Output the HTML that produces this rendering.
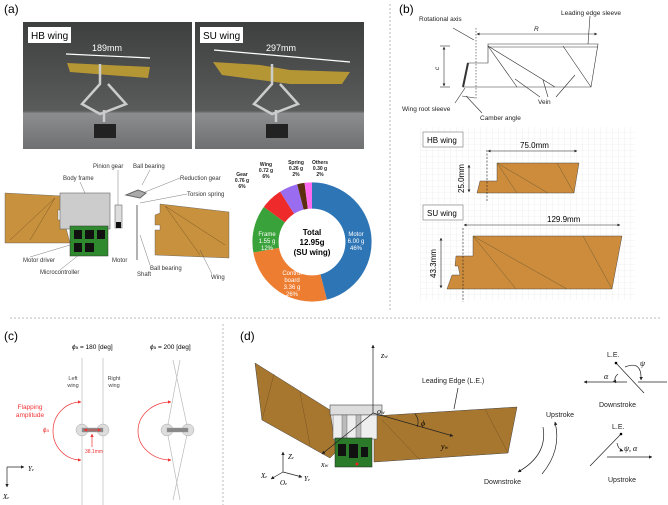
<!DOCTYPE html>
<html><head><meta charset="utf-8"><style>
body{margin:0;background:#fff}
svg{display:block;font-family:"Liberation Sans",sans-serif}
</style></head><body>
<svg width="668" height="505" viewBox="0 0 668 505" xmlns="http://www.w3.org/2000/svg">
<defs>
<linearGradient id="ph" x1="0" y1="0" x2="0" y2="1">
<stop offset="0" stop-color="#3e3f3f"/><stop offset="0.7" stop-color="#5a5b5b"/><stop offset="0.72" stop-color="#8c8d8e"/><stop offset="1" stop-color="#6f7071"/></linearGradient>
<pattern id="grid" width="6" height="6" patternUnits="userSpaceOnUse"><path d="M6 0H0V6" fill="none" stroke="#e4e4e4" stroke-width="0.6"/></pattern>
<marker id="ar" viewBox="0 0 10 10" refX="9" refY="5" markerWidth="5" markerHeight="5" orient="auto-start-reverse"><path d="M0 0L10 5L0 10z" fill="#222"/></marker>
<marker id="arr" viewBox="0 0 10 10" refX="9" refY="5" markerWidth="5" markerHeight="5" orient="auto-start-reverse"><path d="M0 0L10 5L0 10z" fill="#e33"/></marker>
</defs>
<g font-size="12"><text x="4" y="13">(a)</text><text x="399" y="13">(b)</text><text x="4" y="340">(c)</text><text x="240" y="340">(d)</text></g>
<!-- dividers -->
<line x1="390" y1="4" x2="390" y2="312" stroke="#bbb" stroke-dasharray="2,2"/>
<line x1="10" y1="318" x2="660" y2="318" stroke="#bbb" stroke-dasharray="2,2"/>
<line x1="223" y1="324" x2="223" y2="505" stroke="#bbb" stroke-dasharray="2,2"/>
<!-- photos -->
<rect x="23" y="22" width="169" height="127" fill="url(#ph)"/>
<rect x="195" y="22" width="169" height="127" fill="url(#ph)"/>
<rect x="28" y="27" width="43" height="16" fill="#fff"/><text x="31" y="39" font-size="10">HB wing</text>
<rect x="200" y="27" width="43" height="16" fill="#fff"/><text x="203" y="39" font-size="10">SU wing</text>
<text x="92" y="51" font-size="9" fill="#fff">189mm</text><text x="266" y="51" font-size="9" fill="#fff">297mm</text>
<line x1="66" y1="54" x2="150" y2="58" stroke="#fff" stroke-width="1.2"/>
<line x1="214" y1="50" x2="350" y2="62" stroke="#fff" stroke-width="1.2"/>
<polygon points="67,63 150,67 148,78 70,72" fill="#b59635"/>
<polygon points="213,62 260,65 290,70 350,72 342,84 290,84 260,80 222,75" fill="#b59635"/>
<g stroke="#ccc" stroke-width="2.5" fill="none"><path d="M100 64v20l-18 20 18 10 26-10-18-20M104 110v12"/><path d="M272 64v20l-18 20 18 10 26-10-18-20M276 110v12"/></g>
<rect x="94" y="124" width="22" height="14" fill="#222"/><rect x="266" y="124" width="22" height="14" fill="#222"/>
<!-- CAD -->
<text font-size="6" fill="#333"><tspan x="93" y="168">Pinion gear</tspan><tspan x="133" y="168">Ball bearing</tspan><tspan x="63" y="180">Body frame</tspan><tspan x="180" y="180">Reduction gear</tspan><tspan x="187" y="196">Torsion spring</tspan><tspan x="23" y="262">Motor driver</tspan><tspan x="112" y="262">Motor</tspan><tspan x="150" y="270">Ball bearing</tspan><tspan x="211" y="279">Wing</tspan><tspan x="40" y="274">Microcontroller</tspan><tspan x="137" y="276">Shaft</tspan></text>
<polygon points="5,193 62,196 62,210 58,210 58,220 64,220 70,243 5,243" fill="#c8913d" stroke="#555" stroke-width="0.4"/>
<polygon points="160,204 229,212 229,258 155,255 155,230 160,230 160,225 155,225 155,215 160,213" fill="#c8913d" stroke="#555" stroke-width="0.4"/>
<g stroke="#6a4a20" stroke-width="0.4"><line x1="55" y1="198" x2="10" y2="240"/><line x1="55" y1="198" x2="30" y2="240"/><line x1="165" y1="206" x2="200" y2="255"/><line x1="165" y1="206" x2="225" y2="245"/></g>
<rect x="60" y="193" width="50" height="36" fill="#ccc" stroke="#666" stroke-width="0.6"/>
<rect x="70" y="226" width="38" height="30" fill="#2f8a2f" stroke="#333" stroke-width="0.5"/>
<g fill="#111"><rect x="74" y="230" width="8" height="9"/><rect x="85" y="230" width="9" height="9"/><rect x="97" y="230" width="8" height="9"/><rect x="74" y="243" width="8" height="9"/><rect x="85" y="243" width="9" height="9"/></g>
<rect x="115" y="205" width="7" height="23" fill="#ddd" stroke="#555" stroke-width="0.5"/><rect x="116" y="222" width="5" height="6" fill="#111"/>
<path d="M126 195l12-5 8 3-6 5zM137 205v55" stroke="#666" stroke-width="1" fill="#aaa"/>
<g stroke="#555" stroke-width="0.4"><line x1="118" y1="170" x2="118" y2="205"/><line x1="150" y1="170" x2="142" y2="185"/><line x1="180" y1="178" x2="145" y2="192"/><line x1="187" y1="194" x2="140" y2="203"/><line x1="150" y1="265" x2="140" y2="235"/><line x1="30" y1="257" x2="70" y2="245"/><line x1="60" y1="270" x2="80" y2="254"/><line x1="212" y1="274" x2="200" y2="250"/><line x1="80" y1="182" x2="85" y2="193"/></g>
<!-- donut -->
<g transform="translate(312,242)">
<path d="M0,-60 A60,60 0 0 1 15.0,58.1 L8.3,32.0 A33,33 0 0 0 0,-33Z" fill="#2e75b6"/>
<path d="M15.0,58.1 A60,60 0 0 1 -59.0,10.5 L-32.5,5.8 A33,33 0 0 0 8.3,32.0Z" fill="#ed7d31"/>
<path d="M-59.0,10.5 A60,60 0 0 1 -48.5,-35.3 L-26.7,-19.4 A33,33 0 0 0 -32.5,5.8Z" fill="#3aa23a"/>
<path d="M-48.5,-35.3 A60,60 0 0 1 -32.1,-50.7 L-17.7,-27.9 A33,33 0 0 0 -26.7,-19.4Z" fill="#ee2a2a"/>
<path d="M-32.1,-50.7 A60,60 0 0 1 -14.9,-58.1 L-8.2,-32.0 A33,33 0 0 0 -17.7,-27.9Z" fill="#9a6cf0"/>
<path d="M-14.9,-58.1 A60,60 0 0 1 -7.5,-59.5 L-4.1,-32.7 A33,33 0 0 0 -8.2,-32.0Z" fill="#5a2e0e"/>
<path d="M-7.5,-59.5 A60,60 0 0 1 0,-60 L0,-33 A33,33 0 0 0 -4.1,-32.7Z" fill="#ff6bf0"/>
<g stroke="#fff" stroke-width="0.8" fill="none"><circle r="60"/><circle r="33"/></g>
<g font-size="6" text-anchor="middle" fill="#fff"><text x="44" y="-6">Motor</text><text x="44" y="1">6.00 g</text><text x="44" y="8">46%</text><text x="-20" y="33">Control</text><text x="-20" y="40">board</text><text x="-20" y="47">3.36 g</text><text x="-20" y="54">26%</text><text x="-45" y="-6">Frame</text><text x="-45" y="1">1.55 g</text><text x="-45" y="8">12%</text></g>
<g font-size="5" text-anchor="middle" fill="#222" font-weight="bold"><text x="-70" y="-66">Gear</text><text x="-70" y="-60">0.76 g</text><text x="-70" y="-54">6%</text><text x="-46" y="-76">Wing</text><text x="-46" y="-70">0.72 g</text><text x="-46" y="-64">6%</text><text x="-16" y="-78">Spring</text><text x="-16" y="-72">0.26 g</text><text x="-16" y="-66">2%</text><text x="8" y="-78">Others</text><text x="8" y="-72">0.30 g</text><text x="8" y="-66">2%</text></g>
<g font-size="8" font-weight="bold" text-anchor="middle"><text y="-7">Total</text><text y="3">12.95g</text><text y="13">(SU wing)</text></g>
</g>
<!-- (b) schematic -->
<g stroke="#333" stroke-width="0.6" fill="none">
<path d="M488 44H598L591 87H463L468 63H488Z"/><line x1="488" y1="47" x2="598" y2="47"/>
<line x1="488" y1="46" x2="517" y2="87"/><line x1="488" y1="46" x2="555" y2="87"/><line x1="563" y1="46" x2="591" y2="87"/>
<line x1="476" y1="28" x2="476" y2="100" stroke-dasharray="1.5,1.5"/>
<line x1="477" y1="34" x2="597" y2="34" marker-start="url(#ar)" marker-end="url(#ar)"/>
<line x1="444" y1="47" x2="444" y2="86" marker-start="url(#ar)" marker-end="url(#ar)"/>
<line x1="440" y1="46" x2="450" y2="46"/><line x1="440" y1="87" x2="450" y2="87"/>
<line x1="468" y1="63" x2="463" y2="87" stroke-width="2"/>
<line x1="453" y1="28" x2="474" y2="40"/><line x1="590" y1="16" x2="588" y2="44"/><line x1="540" y1="97" x2="515" y2="79"/><line x1="548" y1="97" x2="543" y2="80"/><line x1="556" y1="97" x2="575" y2="75"/><line x1="455" y1="103" x2="465" y2="88"/><line x1="482" y1="113" x2="466" y2="96"/><line x1="462" y1="96" x2="475" y2="98"/>
</g>
<g font-size="6.5" fill="#222"><text x="419" y="21">Rotational axis</text><text x="561" y="15">Leading edge sleeve</text><text x="534" y="31" font-style="italic">R</text><text x="439" y="70" font-style="italic" transform="rotate(-90 439 70)">c</text><text x="538" y="104">Vein</text><text x="402" y="111">Wing root sleeve</text><text x="480" y="120">Camber angle</text></g>
<rect x="420" y="127" width="215" height="173" fill="url(#grid)"/>
<rect x="423" y="132" width="40" height="15" fill="#fff" stroke="#777" stroke-width="0.6"/><text x="427" y="143" font-size="8">HB wing</text>
<rect x="423" y="205" width="40" height="15" fill="#fff" stroke="#777" stroke-width="0.6"/><text x="427" y="216" font-size="8">SU wing</text>
<polygon points="497,163 579,163 574,193 477,193 480,181 497,181" fill="#cd8b3c" stroke="#333" stroke-width="0.4"/>
<polygon points="473,236 622,236 612,289 447,289 452,275 460,275 458,266 455,266 456,256 473,256" fill="#cd8b3c" stroke="#333" stroke-width="0.4"/>
<g stroke="#553" stroke-width="0.4"><line x1="497" y1="163" x2="517" y2="193"/><line x1="497" y1="163" x2="548" y2="193"/><line x1="557" y1="163" x2="574" y2="193"/><line x1="473" y1="236" x2="516" y2="289"/><line x1="473" y1="236" x2="567" y2="289"/><line x1="583" y1="236" x2="612" y2="289"/></g>
<g stroke="#222" stroke-width="0.6" fill="none"><line x1="487" y1="150" x2="487" y2="202" stroke-dasharray="2,1.5"/><line x1="463" y1="228" x2="463" y2="302" stroke-dasharray="2,1.5"/>
<line x1="488" y1="151" x2="577" y2="151" marker-start="url(#ar)" marker-end="url(#ar)"/><line x1="469" y1="165" x2="469" y2="192" marker-start="url(#ar)" marker-end="url(#ar)"/>
<line x1="464" y1="225" x2="620" y2="225" marker-start="url(#ar)" marker-end="url(#ar)"/><line x1="441" y1="238" x2="441" y2="288" marker-start="url(#ar)" marker-end="url(#ar)"/></g>
<g font-size="8"><text x="520" y="148">75.0mm</text><text x="547" y="222">129.9mm</text><text x="464" y="193" transform="rotate(-90 464 193)">25.0mm</text><text x="436" y="278" transform="rotate(-90 436 278)">43.3mm</text></g>
<!-- (c) -->
<g font-size="6.5"><text x="72" y="349"><tspan font-style="italic">ϕ</tspan><tspan font-size="4.5">a</tspan> = 180 [deg]</text><text x="150" y="349"><tspan font-style="italic">ϕ</tspan><tspan font-size="4.5">a</tspan> = 200 [deg]</text></g>
<g stroke="#bbb" stroke-width="0.7" fill="none"><line x1="82" y1="358" x2="82" y2="505"/><line x1="103" y1="358" x2="103" y2="505"/><path d="M173 360L188 430L173 500"/><path d="M180 360L167 430L180 500"/></g>
<g font-size="5.5" fill="#444" text-anchor="middle"><text x="73" y="380">Left</text><text x="73" y="387">wing</text><text x="114" y="380">Right</text><text x="114" y="387">wing</text></g>
<g fill="#ddd" stroke="#999" stroke-width="0.4"><circle cx="82" cy="430" r="6"/><circle cx="103" cy="430" r="6"/><rect x="82" y="428" width="21" height="4" fill="#888"/><circle cx="167" cy="430" r="6"/><circle cx="188" cy="430" r="6"/><rect x="167" y="428" width="21" height="4" fill="#888"/></g>
<g fill="#e33" font-size="6.5" text-anchor="middle"><text x="30" y="409">Flapping</text><text x="30" y="417">amplitude</text><text x="46" y="432" font-style="italic">ϕ<tspan font-size="4.5">a</tspan></text><text x="94" y="453" font-size="5">38.1mm</text></g>
<g stroke="#e33" stroke-width="0.7" fill="none"><path d="M81 402A28 29 0 0 0 81 460" marker-start="url(#arr)" marker-end="url(#arr)"/><line x1="84" y1="430" x2="101" y2="430" marker-start="url(#arr)" marker-end="url(#arr)"/><line x1="92" y1="447" x2="92" y2="434" marker-end="url(#arr)"/><path d="M171 402A33 29 0 0 0 171 460" marker-start="url(#arr)" marker-end="url(#arr)"/></g>
<g stroke="#222" stroke-width="0.7" fill="none"><line x1="7" y1="467" x2="7" y2="487" marker-end="url(#ar)"/><line x1="7" y1="467" x2="24" y2="467" marker-end="url(#ar)"/></g>
<text x="28" y="471" font-size="7" font-style="italic" font-family="Liberation Serif,serif">Y<tspan font-size="4.5">e</tspan></text><text x="3" y="499" font-size="7" font-style="italic" font-family="Liberation Serif,serif">X<tspan font-size="4.5">e</tspan></text>
<!-- (d) -->
<polygon points="255,363 330,410 336,452 330,458 262,420" fill="#a8772f" stroke="#444" stroke-width="0.5"/>
<polygon points="374,416 517,407 508,453 374,462" fill="#a8772f" stroke="#444" stroke-width="0.5"/>
<g stroke="#6a4a20" stroke-width="0.4"><line x1="274" y1="374" x2="262" y2="420"/><line x1="300" y1="392" x2="310" y2="445"/><line x1="485" y1="409" x2="508" y2="453"/><line x1="382" y1="420" x2="420" y2="460"/></g>
<rect x="330" y="405" width="52" height="10" fill="#ddd" stroke="#444" stroke-width="0.6"/>
<rect x="333" y="415" width="44" height="24" fill="#eee" stroke="#555" stroke-width="0.5"/>
<g fill="#bbb" stroke="#555" stroke-width="0.4"><rect x="342" y="415" width="5" height="23"/><rect x="356" y="415" width="5" height="23"/></g>
<rect x="335" y="438" width="37" height="29" fill="#2a7a2a" stroke="#222" stroke-width="0.5"/>
<g fill="#111"><rect x="338" y="444" width="8" height="12"/><rect x="349" y="444" width="9" height="14"/><rect x="361" y="447" width="7" height="10"/></g>
<circle cx="357" cy="464" r="1.5" fill="#e22"/>
<g stroke="#222" stroke-width="0.7" fill="none">
<line x1="373" y1="413" x2="373" y2="345" marker-end="url(#ar)"/><line x1="373" y1="413" x2="453" y2="436" marker-end="url(#ar)"/><line x1="373" y1="413" x2="322" y2="454" marker-end="url(#ar)"/>
<path d="M415 414A12 12 0 0 1 417 427"/><line x1="458" y1="388" x2="454" y2="409"/>
<line x1="283" y1="472" x2="283" y2="452" marker-end="url(#ar)"/><line x1="283" y1="472" x2="302" y2="477" marker-end="url(#ar)"/><line x1="283" y1="472" x2="271" y2="479" marker-end="url(#ar)"/>
<path d="M543 427Q548 455 518 472" marker-end="url(#ar)"/><path d="M542 474Q562 450 555 422" marker-end="url(#ar)"/>
<line x1="638" y1="382" x2="667" y2="382"/><line x1="627" y1="382" x2="584" y2="382" marker-end="url(#ar)"/><line x1="616" y1="363" x2="644" y2="393"/><path d="M625 367Q642 360 641 380" marker-end="url(#ar)"/><path d="M618 374Q613 378 616 383" marker-end="url(#ar)"/>
<line x1="621" y1="434" x2="590" y2="466"/><line x1="607" y1="457" x2="652" y2="457" marker-end="url(#ar)"/><path d="M617 443Q618 449 623 451" marker-end="url(#ar)"/>
</g>
<circle cx="616" cy="363" r="1.3"/><circle cx="621" cy="434" r="1.3"/>
<g font-style="italic" font-family="Liberation Serif,serif" font-size="8"><text x="381" y="358">z<tspan font-size="5.5">w</tspan></text><text x="377" y="414">o<tspan font-size="5.5">w</tspan></text><text x="421" y="426">ϕ</text><text x="441" y="449">y<tspan font-size="5.5">w</tspan></text><text x="321" y="467">x<tspan font-size="5.5">w</tspan></text><text x="288" y="459" font-size="7">Z<tspan font-size="4.5">e</tspan></text><text x="261" y="478" font-size="7">X<tspan font-size="4.5">e</tspan></text><text x="280" y="485" font-size="7">O<tspan font-size="4.5">e</tspan></text><text x="304" y="481" font-size="7">Y<tspan font-size="4.5">e</tspan></text><text x="604" y="379">α</text><text x="640" y="366">ψ</text><text x="624" y="451">ψ, α</text></g>
<g font-size="7" fill="#222"><text x="422" y="383">Leading Edge (L.E.)</text><text x="546" y="417">Upstroke</text><text x="484" y="484">Downstroke</text><text x="607" y="357">L.E.</text><text x="599" y="407">Downstroke</text><text x="612" y="429">L.E.</text><text x="608" y="482">Upstroke</text></g>
</svg>
</body></html>
